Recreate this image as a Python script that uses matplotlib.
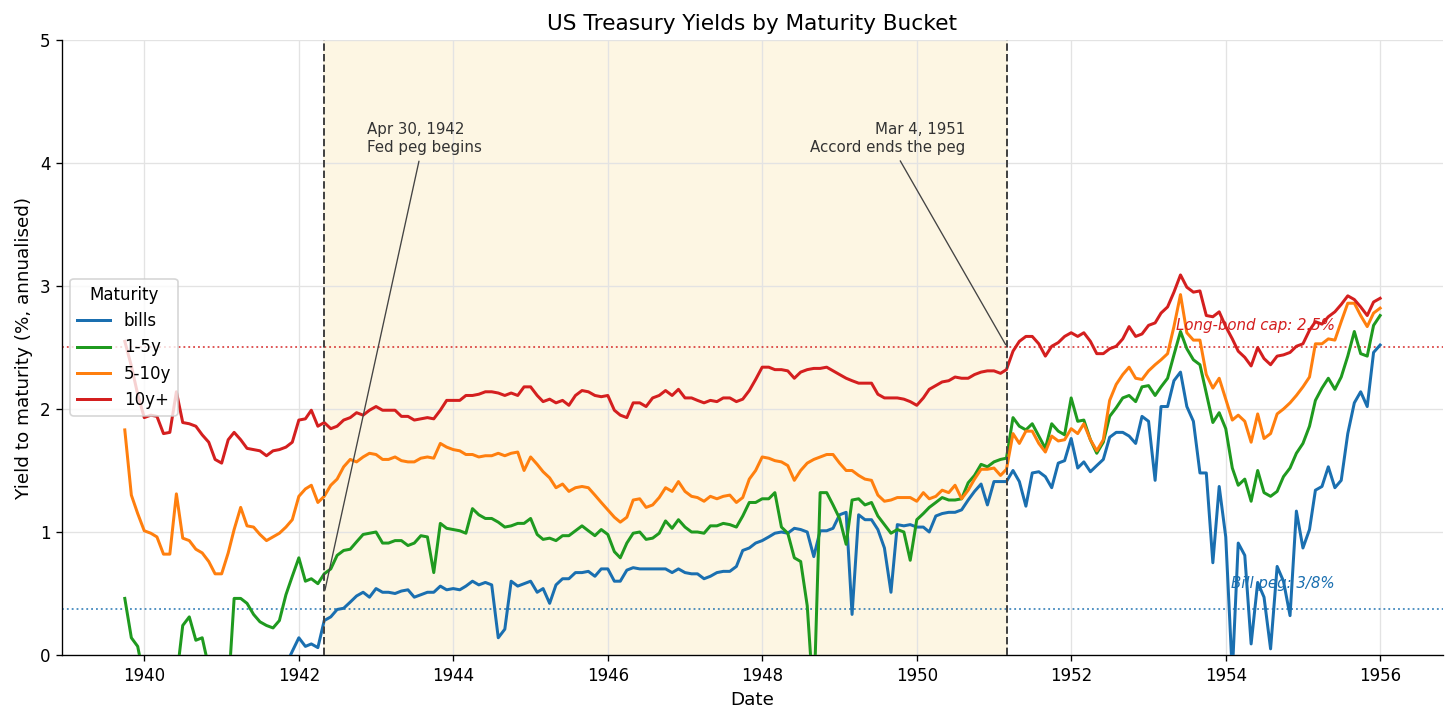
import matplotlib
matplotlib.use("Agg")
import matplotlib.pyplot as plt
import matplotlib.dates as mdates
import pandas as pd

# Monthly observations, Sep 1939 .. Dec 1955 (month ends)
start_month = "1939-10-01"
n_months = 196

bills = [
    -0.02, -0.04, -0.05, -0.03, -0.06, -0.04, -0.08, -0.05, -0.03, -0.06, -0.04, -0.07,
    -0.05, -0.03, -0.04, -0.06, -0.05, -0.02, -0.04, -0.06, -0.03, -0.05, -0.04, -0.06,
    -0.03, -0.08, 0.03, 0.14, 0.07, 0.09, 0.06, 0.28, 0.31, 0.37, 0.38, 0.43,
    0.48, 0.51, 0.47, 0.54, 0.51, 0.51, 0.50, 0.52, 0.53, 0.47, 0.49, 0.51,
    0.51, 0.56, 0.53, 0.54, 0.53, 0.56, 0.60, 0.57, 0.59, 0.57, 0.14, 0.21,
    0.60, 0.56, 0.58, 0.60, 0.51, 0.54, 0.42, 0.57, 0.62, 0.62, 0.67, 0.67,
    0.68, 0.64, 0.70, 0.70, 0.60, 0.60, 0.69, 0.71, 0.70, 0.70, 0.70, 0.70,
    0.70, 0.67, 0.70, 0.67, 0.66, 0.66, 0.62, 0.64, 0.67, 0.68, 0.68, 0.72,
    0.85, 0.87, 0.91, 0.93, 0.96, 0.99, 1.00, 0.99, 1.03, 1.02, 1.00, 0.80,
    1.01, 1.01, 1.03, 1.14, 1.16, 0.33, 1.14, 1.10, 1.10, 1.02, 0.87, 0.51,
    1.06, 1.05, 1.06, 1.04, 1.04, 1.00, 1.13, 1.15, 1.16, 1.16, 1.18, 1.26,
    1.33, 1.39, 1.22, 1.41, 1.41, 1.41, 1.50, 1.41, 1.21, 1.48, 1.49, 1.45,
    1.36, 1.56, 1.58, 1.76, 1.52, 1.57, 1.49, 1.54, 1.59, 1.77, 1.81, 1.81,
    1.78, 1.72, 1.94, 1.90, 1.42, 2.02, 2.02, 2.23, 2.30, 2.02, 1.90, 1.48,
    1.48, 0.75, 1.37, 0.96, -0.15, 0.91, 0.81, 0.09, 0.59, 0.47, 0.05, 0.72,
    0.60, 0.32, 1.17, 0.87, 1.02, 1.34, 1.37, 1.53, 1.36, 1.42, 1.80, 2.05,
    2.14, 2.02, 2.46, 2.52,
]

y1_5 = [
    0.46, 0.14, 0.07, -0.20, -0.30, -0.35, -0.30, -0.25, -0.20, 0.24, 0.31, 0.12,
    0.14, -0.10, -0.30, -0.35, -0.30, 0.46, 0.46, 0.42, 0.33, 0.27, 0.24, 0.22,
    0.28, 0.49, 0.64, 0.79, 0.60, 0.62, 0.58, 0.66, 0.70, 0.81, 0.85, 0.86,
    0.92, 0.98, 0.99, 1.00, 0.91, 0.91, 0.93, 0.93, 0.89, 0.91, 0.97, 0.96,
    0.67, 1.07, 1.03, 1.02, 1.01, 0.99, 1.19, 1.14, 1.11, 1.11, 1.08, 1.04,
    1.05, 1.07, 1.07, 1.11, 0.98, 0.94, 0.95, 0.93, 0.97, 0.97, 1.01, 1.05,
    1.01, 0.97, 1.02, 0.98, 0.84, 0.79, 0.91, 0.99, 1.00, 0.94, 0.95, 0.99,
    1.09, 1.03, 1.10, 1.04, 1.00, 1.00, 0.99, 1.05, 1.05, 1.07, 1.06, 1.04,
    1.13, 1.24, 1.24, 1.27, 1.27, 1.32, 1.04, 0.99, 0.79, 0.76, 0.40, -0.40,
    1.32, 1.32, 1.22, 1.11, 0.90, 1.26, 1.27, 1.22, 1.24, 1.13, 1.06, 0.99,
    1.02, 1.00, 0.77, 1.10, 1.15, 1.20, 1.24, 1.28, 1.26, 1.26, 1.27, 1.40,
    1.46, 1.55, 1.53, 1.57, 1.59, 1.60, 1.93, 1.86, 1.83, 1.88, 1.78, 1.68,
    1.88, 1.82, 1.79, 2.09, 1.90, 1.91, 1.75, 1.64, 1.73, 1.94, 2.01, 2.09,
    2.11, 2.06, 2.18, 2.19, 2.11, 2.18, 2.25, 2.44, 2.63, 2.49, 2.40, 2.36,
    2.13, 1.89, 1.97, 1.84, 1.52, 1.38, 1.43, 1.25, 1.50, 1.32, 1.29, 1.33,
    1.45, 1.52, 1.64, 1.72, 1.86, 2.07, 2.17, 2.25, 2.16, 2.26, 2.43, 2.63,
    2.45, 2.43, 2.68, 2.76,
]

y5_10 = [
    1.83, 1.30, 1.15, 1.01, 0.99, 0.96, 0.82, 0.82, 1.31, 0.95, 0.93, 0.86,
    0.83, 0.76, 0.66, 0.66, 0.83, 1.02, 1.20, 1.05, 1.04, 0.98, 0.93, 0.96,
    0.99, 1.04, 1.10, 1.29, 1.35, 1.38, 1.24, 1.29, 1.38, 1.43, 1.53, 1.59,
    1.57, 1.61, 1.64, 1.63, 1.59, 1.59, 1.61, 1.58, 1.57, 1.57, 1.60, 1.61,
    1.60, 1.72, 1.69, 1.67, 1.66, 1.63, 1.63, 1.61, 1.62, 1.62, 1.64, 1.62,
    1.64, 1.65, 1.50, 1.61, 1.55, 1.49, 1.44, 1.36, 1.39, 1.33, 1.36, 1.37,
    1.36, 1.30, 1.24, 1.18, 1.12, 1.08, 1.12, 1.26, 1.27, 1.20, 1.22, 1.28,
    1.36, 1.33, 1.41, 1.33, 1.29, 1.28, 1.25, 1.29, 1.27, 1.29, 1.30, 1.24,
    1.28, 1.43, 1.50, 1.61, 1.60, 1.58, 1.57, 1.54, 1.42, 1.50, 1.56, 1.59,
    1.61, 1.63, 1.63, 1.56, 1.50, 1.50, 1.46, 1.43, 1.42, 1.30, 1.25, 1.26,
    1.28, 1.28, 1.28, 1.25, 1.32, 1.27, 1.29, 1.34, 1.32, 1.38, 1.27, 1.34,
    1.43, 1.51, 1.51, 1.52, 1.46, 1.51, 1.80, 1.72, 1.82, 1.82, 1.72, 1.65,
    1.78, 1.74, 1.75, 1.84, 1.80, 1.88, 1.75, 1.66, 1.75, 2.07, 2.20, 2.28,
    2.34, 2.25, 2.24, 2.31, 2.36, 2.40, 2.45, 2.67, 2.93, 2.62, 2.56, 2.56,
    2.28, 2.17, 2.25, 2.08, 1.91, 1.95, 1.90, 1.73, 1.96, 1.76, 1.80, 1.96,
    2.00, 2.05, 2.11, 2.18, 2.26, 2.53, 2.53, 2.57, 2.56, 2.71, 2.86, 2.86,
    2.76, 2.67, 2.78, 2.82,
]

y10_plus = [
    2.55, 2.35, 2.12, 1.93, 1.95, 1.94, 1.80, 1.81, 2.14, 1.89, 1.88, 1.86,
    1.79, 1.73, 1.59, 1.56, 1.75, 1.81, 1.75, 1.68, 1.67, 1.66, 1.62, 1.66,
    1.67, 1.69, 1.73, 1.91, 1.92, 1.99, 1.86, 1.89, 1.84, 1.86, 1.91, 1.93,
    1.97, 1.95, 1.99, 2.02, 1.99, 1.99, 1.99, 1.94, 1.94, 1.91, 1.92, 1.93,
    1.92, 1.99, 2.07, 2.07, 2.07, 2.11, 2.11, 2.12, 2.14, 2.14, 2.13, 2.11,
    2.13, 2.11, 2.18, 2.18, 2.11, 2.06, 2.08, 2.05, 2.07, 2.03, 2.11, 2.15,
    2.14, 2.11, 2.10, 2.11, 1.99, 1.95, 1.93, 2.05, 2.05, 2.02, 2.09, 2.11,
    2.15, 2.11, 2.16, 2.09, 2.09, 2.07, 2.05, 2.07, 2.06, 2.09, 2.09, 2.06,
    2.08, 2.15, 2.24, 2.34, 2.34, 2.32, 2.32, 2.31, 2.25, 2.30, 2.32, 2.33,
    2.33, 2.34, 2.31, 2.28, 2.25, 2.23, 2.21, 2.21, 2.21, 2.12, 2.09, 2.09,
    2.09, 2.08, 2.06, 2.03, 2.09, 2.16, 2.19, 2.22, 2.23, 2.26, 2.25, 2.25,
    2.28, 2.30, 2.31, 2.31, 2.29, 2.32, 2.47, 2.55, 2.59, 2.59, 2.53, 2.43,
    2.51, 2.54, 2.59, 2.62, 2.59, 2.62, 2.55, 2.45, 2.45, 2.49, 2.51, 2.57,
    2.67, 2.59, 2.61, 2.68, 2.70, 2.78, 2.83, 2.95, 3.09, 2.99, 2.95, 2.96,
    2.76, 2.75, 2.79, 2.67, 2.57, 2.47, 2.42, 2.35, 2.50, 2.41, 2.36, 2.43,
    2.44, 2.46, 2.51, 2.53, 2.64, 2.71, 2.69, 2.75, 2.79, 2.85, 2.92, 2.89,
    2.83, 2.76, 2.87, 2.90,
]

series_names = ["bills", "1-5y", "5-10y", "10y+"]
series_colors = ["#1a6fb0", "#1f9a1f", "#ff7f0e", "#d41f1f"]

peg_start = pd.Timestamp("1942-04-30")
peg_end = pd.Timestamp("1951-03-04")
bond_cap = 2.5
bill_peg = 0.375

dates = pd.date_range(start_month, periods=n_months, freq="MS") - pd.Timedelta(days=1)

fig = plt.figure(figsize=(1456 / 120, 722 / 120), dpi=120)
ax = fig.add_subplot(111)
fig.subplots_adjust(left=0.0426, right=0.991, bottom=0.0928, top=0.9446)

ax.set_axisbelow(True)
ax.grid(True, color="#e3e3e3", linewidth=0.8)
ax.axvspan(peg_start, peg_end, color="#fdf6e3", zorder=0)

for name, vals, col in zip(series_names, [bills, y1_5, y5_10, y10_plus], series_colors):
    ax.plot(dates, vals, color=col, linewidth=1.8, label=name, zorder=3)

ax.axhline(bond_cap, color="#d41f1f", linestyle=":", linewidth=1.1, alpha=0.8, zorder=2)
ax.axhline(bill_peg, color="#1a6fb0", linestyle=":", linewidth=1.1, alpha=0.8, zorder=2)
ax.axvline(peg_start, color="#444444", linestyle="--", linewidth=1.2, zorder=4)
ax.axvline(peg_end, color="#444444", linestyle="--", linewidth=1.2, zorder=4)

ax.annotate("Apr 30, 1942\nFed peg begins", xy=(peg_start, 0.5),
            xytext=(peg_start + pd.Timedelta(days=200), 4.2),
            ha="left", va="center", fontsize=9, color="#333333",
            arrowprops=dict(arrowstyle="-", color="#444444", linewidth=0.8))
ax.annotate("Mar 4, 1951\nAccord ends the peg", xy=(peg_end, 2.5),
            xytext=(peg_end - pd.Timedelta(days=200), 4.2),
            ha="right", va="center", fontsize=9, color="#333333",
            arrowprops=dict(arrowstyle="-", color="#444444", linewidth=0.8))

ax.text(pd.Timestamp("1955-06-01"), 2.62, "Long-bond cap: 2.5%", color="#d41f1f",
        fontsize=9, fontstyle="italic", ha="right", va="bottom")
ax.text(pd.Timestamp("1955-06-01"), 0.52, "Bill peg: 3/8%", color="#1a6fb0",
        fontsize=9, fontstyle="italic", ha="right", va="bottom")

ax.set_ylim(0, 5)
ax.set_yticks([0, 1, 2, 3, 4, 5])
ax.xaxis.set_major_locator(mdates.YearLocator(2))
ax.xaxis.set_major_formatter(mdates.DateFormatter("%Y"))
ax.tick_params(labelsize=10)
ax.spines["top"].set_visible(False)
ax.spines["right"].set_visible(False)

ax.set_title("US Treasury Yields by Maturity Bucket", fontsize=13)
ax.set_xlabel("Date", fontsize=11)
ax.set_ylabel("Yield to maturity (%, annualised)", fontsize=11)
ax.legend(title="Maturity", loc="center left", fontsize=10, title_fontsize=10)

fig.savefig("out.png", dpi=120)
